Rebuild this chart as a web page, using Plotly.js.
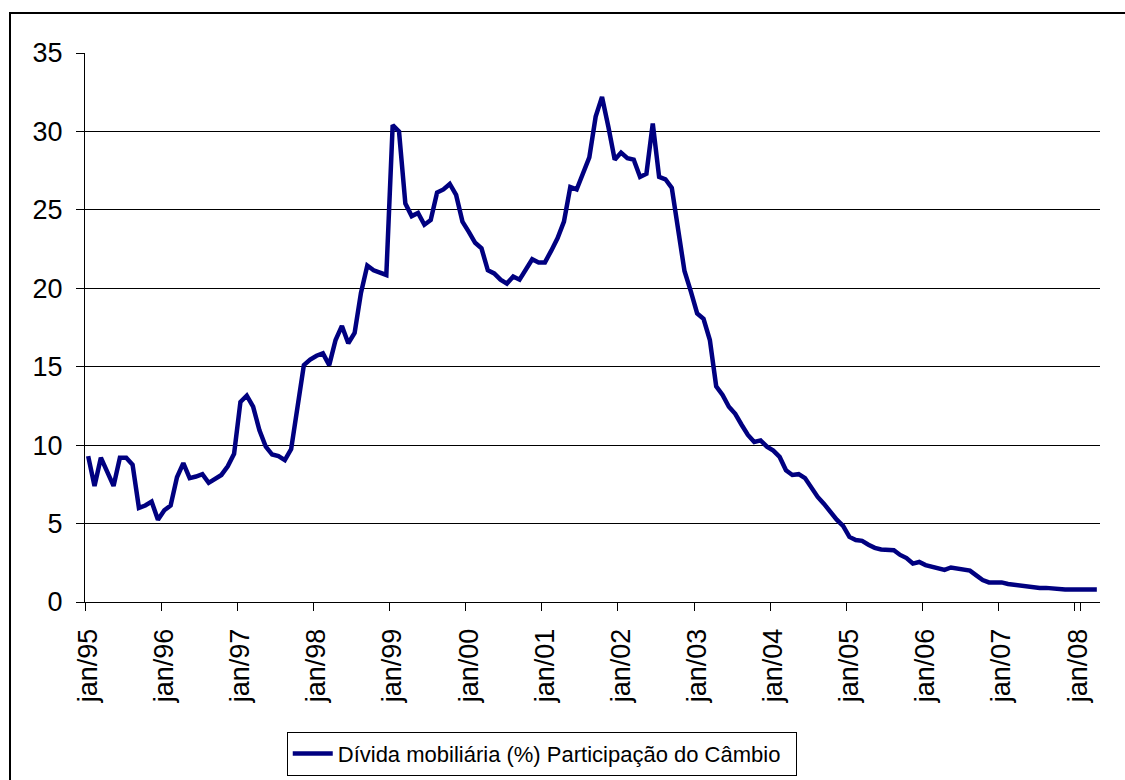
<!DOCTYPE html>
<html>
<head>
<meta charset="utf-8">
<script src="https://cdn.plot.ly/plotly-3.0.1.min.js"></script>
<style>
  html, body { margin: 0; padding: 0; background: #fff; overflow: hidden; }
  #chart { width: 1125px; height: 780px; }
</style>
</head>
<body>
<div id="chart"></div>
<script>
// Month abbreviations (Portuguese) and years of the series
const monthNames = ["jan","fev","mar","abr","mai","jun","jul","ago","set","out","nov","dez"];
const years = ["95","96","97","98","99","00","01","02","03","04","05","06","07","08"];

// Dívida mobiliária (%) – Participação do Câmbio, monthly values by year
const v1995 = [9.3, 7.4, 9.2, 8.3, 7.4, 9.2, 9.2, 8.75, 6.0, 6.15, 6.4, 5.25];
const v1996 = [5.85, 6.15, 7.95, 8.85, 7.9, 8.0, 8.15, 7.6, 7.85, 8.1, 8.65, 9.45];
const v1997 = [12.75, 13.15, 12.45, 10.95, 9.9, 9.4, 9.3, 9.05, 9.75, 12.65, 15.1, 15.45];
const v1998 = [15.7, 15.85, 15.1, 16.7, 17.6, 16.5, 17.15, 19.7, 21.45, 21.15, 21.0, 20.85];
const v1999 = [30.4, 30.0, 25.4, 24.6, 24.8, 24.05, 24.35, 26.1, 26.3, 26.65, 25.95, 24.25];
const v2000 = [23.6, 22.9, 22.55, 21.15, 20.95, 20.55, 20.3, 20.75, 20.55, 21.15, 21.85, 21.65];
const v2001 = [21.65, 22.4, 23.2, 24.25, 26.45, 26.3, 27.35, 28.35, 30.95, 32.2, 30.3, 28.2];
const v2002 = [28.65, 28.3, 28.2, 27.1, 27.3, 30.5, 27.1, 26.95, 26.4, 23.95, 21.1, 19.8];
const v2003 = [18.4, 18.05, 16.7, 13.75, 13.2, 12.45, 12.0, 11.3, 10.65, 10.2, 10.3, 9.9];
const v2004 = [9.65, 9.25, 8.4, 8.1, 8.15, 7.9, 7.25, 6.7, 6.25, 5.7, 5.25, 4.85];
const v2005 = [4.15, 3.95, 3.9, 3.65, 3.45, 3.35, 3.35, 3.3, 3.0, 2.8, 2.45, 2.55];
const v2006 = [2.35, 2.25, 2.2, 2.05, 2.2, 2.15, 2.1, 2.0, 1.7, 1.4, 1.25, 1.25];
const v2007 = [1.25, 1.15, 1.1, 1.0, 0.95, 0.9, 0.9, 0.9, 0.85, 0.8, 0.8, 0.8];
const v2008 = [0.8, 0.8, 0.8, 0.8];

const yTicks = [0, 5, 10, 15, 20, 25, 30, 35];
const seriesName = "Dívida mobiliária (%) Participação do Câmbio";

const values = [].concat(v1995, v1996, v1997, v1998, v1999, v2000, v2001,
                         v2002, v2003, v2004, v2005, v2006, v2007, v2008);
const categories = [];
for (const y of years) for (const m of monthNames) {
  if (categories.length < values.length) categories.push(m + "/" + y);
}
const tickCats = years.map(y => "jan/" + y);

const FONT = "Liberation Sans, Arial, Helvetica, sans-serif";

const trace = {
  type: "scatter",
  mode: "lines",
  x: categories,
  y: values,
  name: seriesName,
  line: { color: "#000080", width: 4.5 },
  showlegend: true
};

const layout = {
  width: 1125,
  height: 780,
  paper_bgcolor: "#ffffff",
  plot_bgcolor: "#ffffff",
  margin: { l: 85, r: 25, t: 53, b: 178, autoexpand: false },
  font: { family: FONT, color: "#000000" },
  showlegend: true,
  xaxis: {
    type: "category",
    categoryorder: "array",
    categoryarray: categories,
    range: [-0.5, values.length - 0.5],
    automargin: false,
    tickmode: "array",
    tickvals: tickCats,
    ticktext: tickCats,
    tickson: "boundaries",
    tickangle: -90,
    ticks: "outside",
    ticklen: 8,
    tickwidth: 1,
    tickcolor: "#000",
    ticklabelstandoff: 15,
    showgrid: false,
    showline: true,
    linecolor: "#000",
    linewidth: 1,
    zeroline: false,
    tickfont: { family: FONT, size: 27, color: "#000" }
  },
  yaxis: {
    range: [0, 35],
    automargin: false,
    tickmode: "array",
    tickvals: yTicks,
    ticktext: yTicks.map(String),
    ticks: "outside",
    ticklen: 8,
    tickwidth: 1,
    tickcolor: "#000",
    ticklabelstandoff: 8,
    showgrid: true,
    gridcolor: "#000",
    gridwidth: 1,
    showline: true,
    linecolor: "#000",
    linewidth: 1,
    zeroline: false,
    tickfont: { family: FONT, size: 27, color: "#000" }
  },
  legend: {
    orientation: "h",
    x: 0.450,
    xanchor: "center",
    y: -0.2362,
    yanchor: "top",
    bordercolor: "#000",
    borderwidth: 1,
    bgcolor: "#fff",
    itemwidth: 40,
    entrywidth: 453,
    entrywidthmode: "pixels",
    font: { family: FONT, size: 22, color: "#000" }
  },
  shapes: [{
    type: "rect",
    xref: "paper", yref: "paper",
    x0: (10 - 85) / 1015, x1: (1140 - 85) / 1015,
    y0: (602 - 800) / 549, y1: (602 - 13) / 549,
    line: { color: "#000", width: 2 },
    fillcolor: "rgba(0,0,0,0)",
    layer: "below"
  }]
};

Plotly.newPlot("chart", [trace], layout, { staticPlot: true, displayModeBar: false });
</script>
</body>
</html>
